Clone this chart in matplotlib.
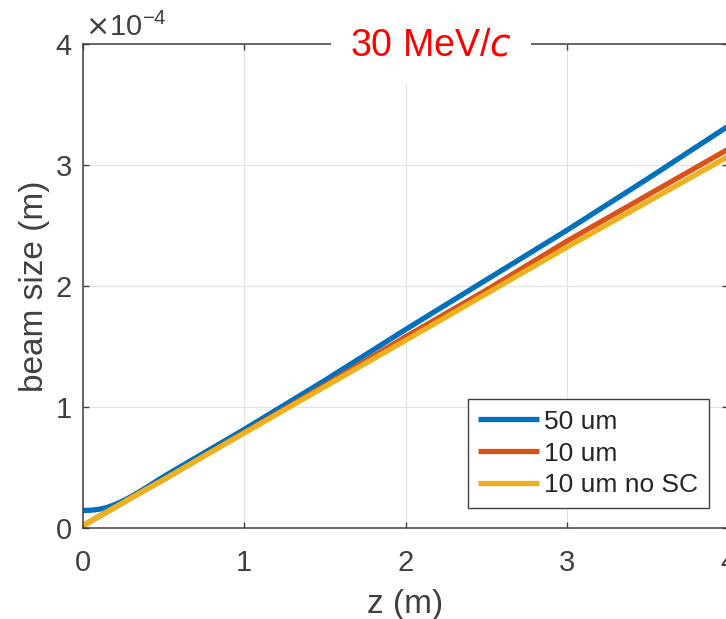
import matplotlib
matplotlib.use("Agg")
import matplotlib.pyplot as plt

plt.rcParams['font.family'] = ['Liberation Sans', 'DejaVu Sans']

# beam size along z, in units of 1e-4 m
z = [0, 0.05, 0.1, 0.15, 0.2, 0.25, 0.3, 0.4, 0.5, 0.75, 1.0, 1.5, 2.0, 2.5, 3.0, 3.5, 4.0]
size_50um = [0.145, 0.147, 0.155, 0.17, 0.195, 0.225, 0.26, 0.34, 0.425, 0.62, 0.815,
             1.22, 1.64, 2.05, 2.46, 2.885, 3.32]
size_10um = [0.02, 0.058, 0.097, 0.135, 0.173, 0.211, 0.25, 0.326, 0.40, 0.596, 0.79,
             1.18, 1.58, 1.965, 2.37, 2.75, 3.13]
size_10um_nosc = [0.02, 0.058, 0.097, 0.135, 0.173, 0.211, 0.25, 0.326, 0.40, 0.594, 0.785,
                  1.168, 1.55, 1.935, 2.32, 2.695, 3.07]
labels = ['50 um', '10 um', '10 um no SC']
colors = ['#0072BD', '#D95319', '#EDB120']
xticks = [0, 1, 2, 3, 4]
yticks = [0, 1, 2, 3, 4]

W, H = 726, 619
fig = plt.figure(figsize=(W / 100, H / 100), dpi=100)
ax = fig.add_axes([83 / W, 1 - 528 / H, (728 - 83) / W, (528 - 44) / H])

for ys, c, lab in zip([size_50um, size_10um, size_10um_nosc], colors, labels):
    ax.plot(z, ys, color=c, lw=3.8, label=lab, solid_capstyle='butt')

ax.set_xlim(0, 4)
ax.set_ylim(0, 4)
ax.set_xticks(xticks)
ax.set_yticks(yticks)
ax.grid(True, color='#e2e2e2', lw=0.8)
ax.set_axisbelow(True)

for s in ax.spines.values():
    s.set_color('#404040')
    s.set_linewidth(1.1)
ax.tick_params(direction='in', length=4, width=1, color='#404040',
               top=True, right=True, labelsize=21, labelcolor='#404040')
ax.tick_params(axis='x', pad=15)
ax.tick_params(axis='y', pad=8)

ax.set_xlabel('z (m)', fontsize=24, color='#404040', labelpad=9)
ax.set_ylabel('beam size (m)', fontsize=24, color='#404040', labelpad=4)

fig.text(85 / W, 1 - 27 / H, r'$\times$10$^{\mathregular{-4}}$', fontsize=21,
         color='#404040', va='center', ha='left')

fig.text(431 / W, 1 - 46 / H, '30 MeV/$\\mathit{c}$', fontsize=27, color='red',
         ha='center', va='center',
         bbox=dict(facecolor='white', edgecolor='none', pad=14))

leg = ax.legend(loc='lower right', bbox_to_anchor=(709 / W, 1 - 508 / H),
                bbox_transform=fig.transFigure, borderaxespad=0,
                fontsize=19, handlelength=2.3, handletextpad=0.2,
                labelspacing=0.3, borderpad=0.4, fancybox=False,
                framealpha=1, edgecolor='#404040')
leg.get_frame().set_linewidth(1.0)
for t in leg.get_texts():
    t.set_color('#262626')

fig.savefig('out.png', dpi=100)
